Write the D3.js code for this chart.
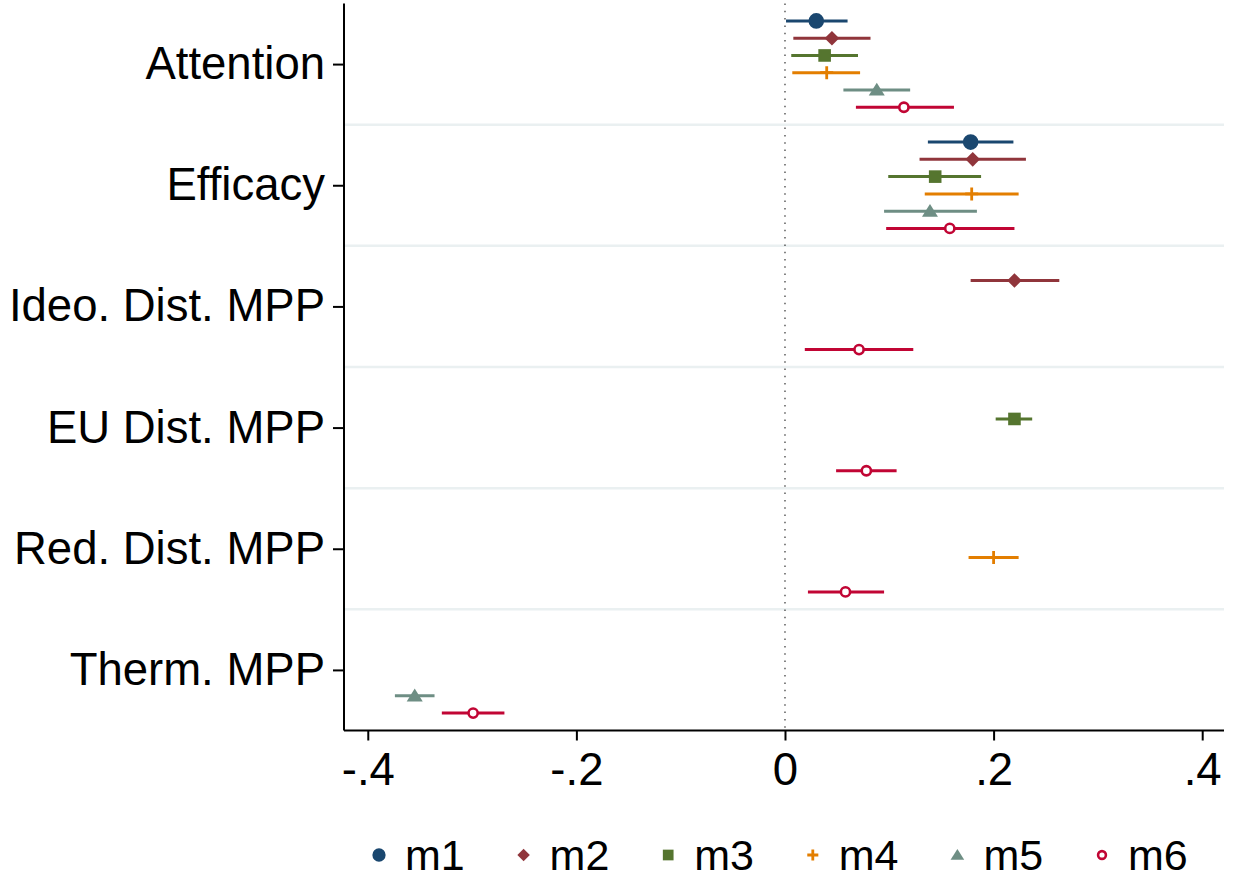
<!DOCTYPE html>
<html>
<head>
<meta charset="utf-8">
<script src="https://cdn.jsdelivr.net/npm/d3@7"></script>
<style>
  body { margin: 0; background: #fff; }
  svg text { font-family: "Liberation Sans", Arial, sans-serif; fill: #000; }
</style>
</head>
<body>
<script>
// Coefficient plot: six models, six predictors

var categories = ["Attention", "Efficacy", "Ideo. Dist. MPP", "EU Dist. MPP", "Red. Dist. MPP", "Therm. MPP"];
var models = ["m1", "m2", "m3", "m4", "m5", "m6"];
var colors = ["#1a476f", "#90353b", "#55752f", "#e37e00", "#6e8e84", "#c10534"];
var shapes = ["circle", "diamond", "square", "plus", "triangle", "hollow"];

// [category index, point estimate, lower CI, upper CI] per model
var m1 = [[0, 0.030, 0.001, 0.060], [1, 0.178, 0.137, 0.219]];
var m2 = [[0, 0.045, 0.008, 0.082], [1, 0.180, 0.129, 0.231], [2, 0.220, 0.178, 0.263]];
var m3 = [[0, 0.038, 0.006, 0.070], [1, 0.144, 0.099, 0.188], [3, 0.220, 0.202, 0.237]];
var m4 = [[0, 0.040, 0.007, 0.072], [1, 0.179, 0.134, 0.224], [4, 0.200, 0.176, 0.224]];
var m5 = [[0, 0.088, 0.056, 0.120], [1, 0.139, 0.095, 0.184], [5, -0.355, -0.374, -0.336]];
var m6 = [[0, 0.114, 0.068, 0.162], [1, 0.158, 0.097, 0.220], [2, 0.071, 0.019, 0.123],
          [3, 0.078, 0.049, 0.107], [4, 0.058, 0.022, 0.095], [5, -0.299, -0.329, -0.269]];
var series = [m1, m2, m3, m4, m5, m6];

var xTicks = [-0.4, -0.2, 0, 0.2, 0.4];
var xTickLabels = ["-.4", "-.2", "0", ".2", ".4"];

var width = 1233, height = 878;
var plotLeft = 344, plotRight = 1224, plotTop = 3.5, plotBottom = 730.5;

var svg = d3.select("body").append("svg")
    .attr("width", width)
    .attr("height", height);

var x = d3.scaleLinear().domain([-0.4228, 0.4209]).range([plotLeft, plotRight]);
var y = d3.scaleLinear().domain([0.5, 6.5]).range([plotTop, plotBottom]);
var offset = 0.1425; // spacing between models inside a group (y units)

function markerPath(shape, s) {
    var p = d3.path();
    if (shape == "circle" || shape == "hollow") {
        p.arc(0, 0, s, 0, 2 * Math.PI);
    } else if (shape == "diamond") {
        p.moveTo(0, -s); p.lineTo(s, 0); p.lineTo(0, s); p.lineTo(-s, 0); p.closePath();
    } else if (shape == "square") {
        p.rect(-s, -s, 2 * s, 2 * s);
    } else if (shape == "triangle") {
        p.moveTo(0, -s * 0.9); p.lineTo(s, s * 0.7); p.lineTo(-s, s * 0.7); p.closePath();
    } else if (shape == "plus") {
        p.moveTo(-s, 0); p.lineTo(s, 0); p.moveTo(0, -s); p.lineTo(0, s);
    }
    return p.toString();
}
var markerSize = {circle: 7.8, diamond: 7.3, square: 6.3, plus: 6.5, triangle: 8, hollow: 4.6};

function drawMarker(g, k, scale) {
    var shape = shapes[k], s = markerSize[shape] * scale;
    var m = g.append("path").attr("d", markerPath(shape, s));
    if (shape == "hollow") {
        m.attr("fill", "#fff").attr("stroke", colors[k]).attr("stroke-width", 2.6);
    } else if (shape == "plus") {
        m.attr("fill", "none").attr("stroke", colors[k]).attr("stroke-width", 2.8);
    } else {
        m.attr("fill", colors[k]);
    }
}

// group separators
svg.selectAll(".sep")
    .data(d3.range(1, categories.length))
    .enter()
    .append("line")
    .attr("class", "sep")
    .attr("x1", plotLeft + 1).attr("x2", plotRight)
    .attr("y1", function(d) { return y(d + 0.5); })
    .attr("y2", function(d) { return y(d + 0.5); })
    .attr("stroke", "#eaf0f1")
    .attr("stroke-width", 2.5);

// zero reference line
svg.append("line")
    .attr("x1", x(0)).attr("x2", x(0))
    .attr("y1", plotTop).attr("y2", plotBottom)
    .attr("stroke", "#333")
    .attr("stroke-width", 1.2)
    .attr("stroke-dasharray", "1.5,5.8");

// confidence intervals and point estimates
series.forEach(function(data, k) {
    var g = svg.append("g").attr("class", "series " + models[k]);
    data.forEach(function(d) {
        var yy = y(d[0] + 1) + (k - 2.5) * offset * (y(1) - y(0));
        g.append("line")
            .attr("x1", x(d[2])).attr("x2", x(d[3]))
            .attr("y1", yy).attr("y2", yy)
            .attr("stroke", colors[k])
            .attr("stroke-width", 3);
        var mg = g.append("g").attr("transform", "translate(" + x(d[1]) + "," + yy + ")");
        drawMarker(mg, k, 1);
    });
});

// axes
var yAxis = d3.axisLeft(y)
    .tickValues(d3.range(1, categories.length + 1))
    .tickFormat(function(d) { return categories[d - 1]; })
    .tickSize(11)
    .tickSizeOuter(0)
    .tickPadding(8);

var gy = svg.append("g")
    .attr("transform", "translate(" + plotLeft + ",0)")
    .call(yAxis);

var xAxis = d3.axisBottom(x)
    .tickValues(xTicks)
    .tickFormat(function(d, i) { return xTickLabels[i]; })
    .tickSize(10)
    .tickSizeOuter(0)
    .tickPadding(12);

var gx = svg.append("g")
    .attr("transform", "translate(0," + plotBottom + ")")
    .call(xAxis);

[gx, gy].forEach(function(g) {
    g.select(".domain").attr("stroke", "#000").attr("stroke-width", 2);
    g.selectAll(".tick line").attr("stroke", "#000").attr("stroke-width", 2);
    g.selectAll(".tick text")
        .attr("font-family", "'Liberation Sans', Arial, sans-serif")
        .attr("font-size", 45.5)
        .attr("fill", "#000");
});
gy.select(".domain").attr("d", "M0," + plotTop + "V" + plotBottom);
gx.select(".domain").attr("d", "M" + plotLeft + ",0H" + plotRight);

// legend
var legendX = d3.scaleLinear().domain([0, 5]).range([379, 1102]);
var legend = svg.append("g").attr("class", "legend");
models.forEach(function(name, k) {
    var lg = legend.append("g").attr("transform", "translate(" + legendX(k) + ",855)");
    drawMarker(lg, k, 0.85);
    lg.append("text")
        .attr("x", 26)
        .attr("y", 15)
        .attr("font-size", 43)
        .text(name);
});
</script>
</body>
</html>
